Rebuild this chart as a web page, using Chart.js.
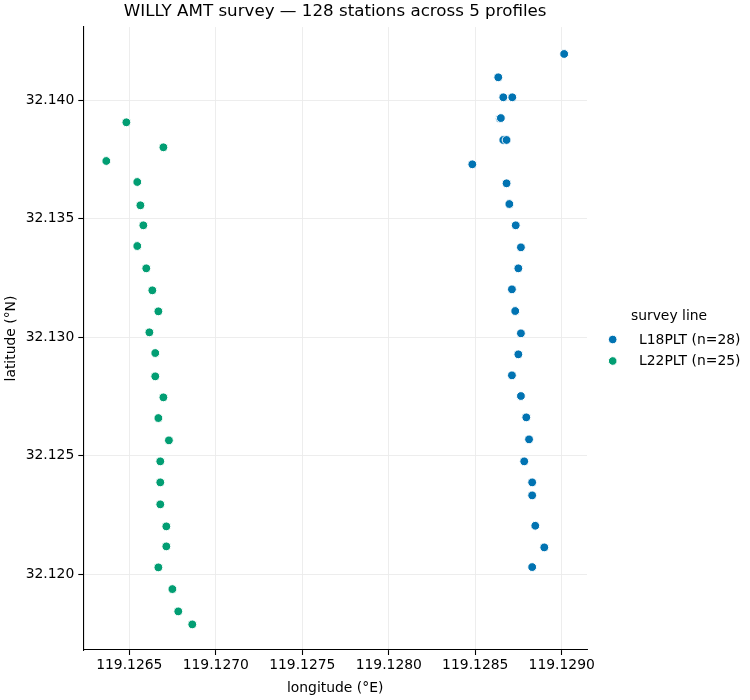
<!DOCTYPE html>
<html>
<head>
<meta charset="utf-8">
<script src="https://cdn.jsdelivr.net/npm/chart.js@4/dist/chart.umd.min.js"></script>
<style>
  html, body { margin: 0; padding: 0; background: #fff; }
  #wrap { width: 750px; height: 700px; }
</style>
</head>
<body>
<div id="wrap"><canvas id="c" width="750" height="700"></canvas></div>
<script>
// ---- data ----
const seriesNames = ['L18PLT (n=28)', 'L22PLT (n=25)'];
const seriesColors = ['#0173b2', '#029e73'];

const lonL18 = [119.129014, 119.128633, 119.128662, 119.128714, 119.128642, 119.128648, 119.128662, 119.128681,
  119.128483, 119.128681, 119.128697, 119.128734, 119.128764, 119.128749, 119.128712, 119.128731,
  119.128764, 119.128749, 119.128712, 119.128764, 119.128795, 119.128811, 119.128783, 119.128829,
  119.128829, 119.128847, 119.128899, 119.128829];
const latL18 = [32.141954, 32.140970, 32.140127, 32.140127, 32.139241, 32.139250, 32.138325, 32.138325,
  32.137300, 32.136498, 32.135624, 32.134726, 32.133797, 32.132911, 32.132025, 32.131110,
  32.130169, 32.129283, 32.128397, 32.127524, 32.126624, 32.125696, 32.124768, 32.123882,
  32.123333, 32.122051, 32.121139, 32.120308];

const lonL22 = [119.126483, 119.126697, 119.126367, 119.126546, 119.126564, 119.126581, 119.126546, 119.126598,
  119.126633, 119.126668, 119.126616, 119.126650, 119.126650, 119.126697, 119.126668, 119.126729,
  119.126679, 119.126679, 119.126679, 119.126714, 119.126714, 119.126668, 119.126749, 119.126783,
  119.126864];
const latL22 = [32.139072, 32.138017, 32.137439, 32.136553, 32.135570, 32.134726, 32.133852, 32.132911,
  32.131983, 32.131097, 32.130211, 32.129338, 32.128354, 32.127468, 32.126595, 32.125654,
  32.124768, 32.123882, 32.122954, 32.122025, 32.121181, 32.120295, 32.119380, 32.118439,
  32.117890];

const xTicks = [119.1265, 119.1270, 119.1275, 119.1280, 119.1285, 119.1290];
const yTicks = [32.120, 32.125, 32.130, 32.135, 32.140];

const titleText = 'WILLY AMT survey \u2014 128 stations across 5 profiles';
const xTitle = 'longitude (\u00b0E)';
const yTitle = 'latitude (\u00b0N)';
const legendTitle = 'survey line';

// ---- chart ----
const FONT = 'DejaVu Sans';
Chart.defaults.font.family = FONT;
Chart.defaults.font.size = 13.9;
Chart.defaults.color = '#000';

const toPts = (xs, ys) => xs.map((x, i) => ({x: x, y: ys[i]}));

const legendPlugin = {
  id: 'sideLegend',
  afterDraw(chart) {
    const ctx = chart.ctx;
    ctx.save();
    ctx.font = '13.9px "' + FONT + '"';
    ctx.fillStyle = '#000';
    ctx.textBaseline = 'middle';
    ctx.textAlign = 'center';
    ctx.fillText(legendTitle, 669, 316);
    ctx.textAlign = 'left';
    const ys = [339.5, 361];
    seriesNames.forEach((name, i) => {
      ctx.beginPath();
      ctx.arc(612.7, ys[i], 4.3, 0, Math.PI * 2);
      ctx.fillStyle = seriesColors[i];
      ctx.fill();
      ctx.lineWidth = 1;
      ctx.strokeStyle = '#fff';
      ctx.stroke();
      ctx.fillStyle = '#000';
      ctx.fillText(name, 639, ys[i] + 0.5);
    });
    ctx.restore();
  }
};

const gridOpts = {color: '#ebebeb', lineWidth: 0.9, tickColor: '#000', tickLength: 5, tickWidth: 1.1, drawTicks: true};

new Chart(document.getElementById('c'), {
  type: 'scatter',
  data: {
    datasets: [
      {label: seriesNames[0], data: toPts(lonL18, latL18), backgroundColor: seriesColors[0],
       borderColor: '#fff', borderWidth: 1, pointRadius: 4.4, pointHoverRadius: 4.4},
      {label: seriesNames[1], data: toPts(lonL22, latL22), backgroundColor: seriesColors[1],
       borderColor: '#fff', borderWidth: 1, pointRadius: 4.4, pointHoverRadius: 4.4}
    ]
  },
  options: {
    responsive: false,
    animation: false,
    devicePixelRatio: 1,
    events: [],
    layout: {padding: {left: 0, right: 163, top: 0, bottom: 0}},
    plugins: {
      legend: {display: false},
      tooltip: {enabled: false},
      title: {display: true, text: titleText, fullSize: false, color: '#000',
              font: {size: 16.7, weight: 'normal'}, padding: {top: 2, bottom: 5}}
    },
    scales: {
      x: {
        type: 'linear', position: 'bottom',
        min: 119.126234, max: 119.129146,
        afterBuildTicks: s => { s.ticks = xTicks.map(v => ({value: v})); },
        afterFit: s => { s.height = 50; },
        ticks: {callback: v => Number(v).toFixed(4), padding: 2, maxRotation: 0, autoSkip: false, color: '#000'},
        grid: gridOpts,
        border: {display: true, color: '#000', width: 1.1},
        title: {display: true, text: xTitle, color: '#000', font: {size: 13.9}, padding: {top: 0, bottom: 3.7}}
      },
      y: {
        type: 'linear', position: 'left',
        min: 32.11681, max: 32.14309,
        afterBuildTicks: s => { s.ticks = yTicks.map(v => ({value: v})); },
        afterFit: s => { s.width = 83.3; },
        ticks: {callback: v => Number(v).toFixed(3), padding: 4, autoSkip: false, color: '#000'},
        grid: gridOpts,
        border: {display: true, color: '#000', width: 1.1},
        title: {display: true, text: yTitle, color: '#000', font: {size: 13.9}, padding: {top: 3, bottom: 0}}
      }
    }
  },
  plugins: [legendPlugin]
});
</script>
</body>
</html>
